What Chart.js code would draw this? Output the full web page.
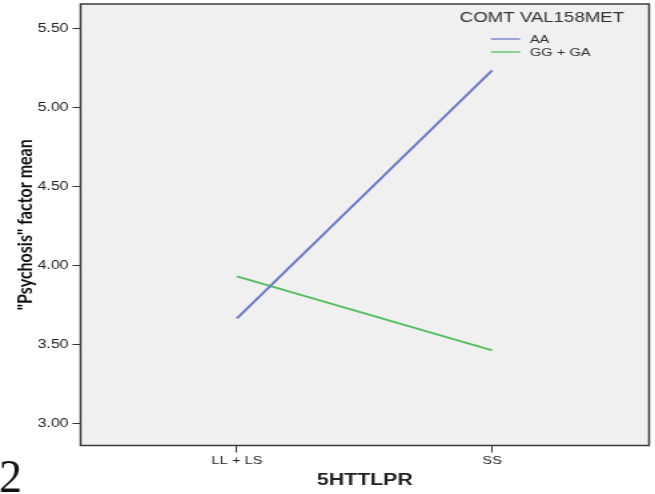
<!DOCTYPE html>
<html><head><meta charset="utf-8">
<script src="https://cdn.jsdelivr.net/npm/chart.js@4"></script>
<style>
html,body{margin:0;padding:0;background:#fff;overflow:hidden;}
#wrap{width:492px;height:494px;transform:scaleX(1.3313);transform-origin:0 0;}
canvas{display:block;}
</style></head><body>
<div id="wrap"><canvas id="c" width="492" height="494"></canvas></div>
<script>
const categories = ['LL + LS', 'SS'];
const seriesNames = ['AA', 'GG + GA'];
const aaValues = [3.665, 5.234];
const ggValues = [3.930, 3.462];
const yTickValues = [3.00, 3.50, 4.00, 4.50, 5.00, 5.50];
const yTickLabels = ['3.00', '3.50', '4.00', '4.50', '5.00', '5.50'];
const legendTitle = 'COMT VAL158MET';
const xTitle = '5HTTLPR';
const yTitle = '"Psychosis" factor mean';
const panelLabel = '2';

const S = 1.3313;
const colors = ['#6a78c8', '#52c05c'];
const seriesValues = [aaValues, ggValues];

const decor = {
  id: 'decor',
  beforeDraw(chart) {
    const {ctx, chartArea: a} = chart;
    ctx.save();
    ctx.fillStyle = '#f0f0f0';
    ctx.fillRect(a.left, a.top, a.right - a.left, a.bottom - a.top);
    ctx.restore();
  },
  afterDraw(chart) {
    const {ctx, chartArea: a} = chart;
    ctx.save();
    ctx.strokeStyle = '#3a3a3a';
    ctx.lineWidth = 1.5;
    ctx.strokeRect(a.left, a.top, a.right - a.left, a.bottom - a.top);
    // legend
    ctx.fillStyle = '#333';
    ctx.font = '14px "Liberation Sans", Arial, sans-serif';
    ctx.textAlign = 'center';
    ctx.textBaseline = 'middle';
    ctx.fillText(legendTitle, 407, 18);
    ctx.textAlign = 'left';
    ctx.font = '11px "Liberation Sans", Arial, sans-serif';
    chart.data.datasets.forEach((ds, i) => {
      const y = 39 + i * 13;
      ctx.strokeStyle = ds.borderColor;
      ctx.lineWidth = 1.3;
      ctx.beginPath();
      ctx.moveTo(368.8, y);
      ctx.lineTo(390.6, y);
      ctx.stroke();
      ctx.fillStyle = '#333';
      ctx.fillText(ds.label, 398, y + 0.5);
    });
    // panel label
    ctx.scale(1 / S, 1);
    ctx.fillStyle = '#111';
    ctx.font = '46px "Liberation Serif", "Times New Roman", serif';
    ctx.textAlign = 'left';
    ctx.textBaseline = 'alphabetic';
    ctx.fillText(panelLabel, -1, 492);
    ctx.restore();
  }
};

new Chart(document.getElementById('c'), {
  type: 'line',
  data: {
    datasets: seriesNames.map((name, k) => ({
      label: name,
      data: categories.map((c, i) => ({x: i, y: seriesValues[k][i]})),
      borderColor: colors[k],
      backgroundColor: colors[k],
      borderWidth: 2,
      pointRadius: 0,
      fill: false,
      tension: 0
    }))
  },
  options: {
    responsive: false,
    animation: false,
    devicePixelRatio: 1,
    layout: {padding: {top: 4, right: 4.5, left: 0, bottom: 0}},
    plugins: {legend: {display: false}, tooltip: {enabled: false}},
    scales: {
      x: {
        type: 'linear',
        min: -0.613,
        max: 1.615,
        afterBuildTicks(s) { s.ticks = categories.map((c, i) => ({value: i})); },
        afterFit(s) { s.height = 48.5; s.paddingLeft = 0; s.paddingRight = 0; },
        border: {display: false},
        grid: {drawOnChartArea: false, drawTicks: true, tickLength: 7, color: '#333', lineWidth: 1},
        ticks: {
          padding: 2,
          color: '#222',
          font: {family: '"Liberation Sans", Arial, sans-serif', size: 11},
          maxRotation: 0,
          callback: (v, i) => categories[i]
        },
        title: {
          display: true, text: xTitle, color: '#222',
          font: {family: '"Liberation Sans", Arial, sans-serif', size: 16, weight: 'bold'},
          padding: {top: 0, bottom: 4}
        }
      },
      y: {
        type: 'linear',
        min: 2.860,
        max: 5.654,
        afterBuildTicks(s) { s.ticks = yTickValues.map(v => ({value: v})); },
        afterFit(s) { s.width = 60.5; s.paddingTop = 0; s.paddingBottom = 0; },
        border: {display: false},
        grid: {drawOnChartArea: false, drawTicks: true, tickLength: 6, color: '#333', lineWidth: 1},
        ticks: {
          padding: 3,
          color: '#222',
          font: {family: '"Liberation Sans", Arial, sans-serif', size: 12},
          callback: (v, i) => yTickLabels[i]
        },
        title: {
          display: true, text: yTitle, color: '#111',
          font: {family: 'Lato, "Open Sans", sans-serif', size: 16, weight: 'bold'},
          padding: {top: 9, bottom: 0}
        }
      }
    }
  },
  plugins: [decor]
});
</script>
</body></html>
